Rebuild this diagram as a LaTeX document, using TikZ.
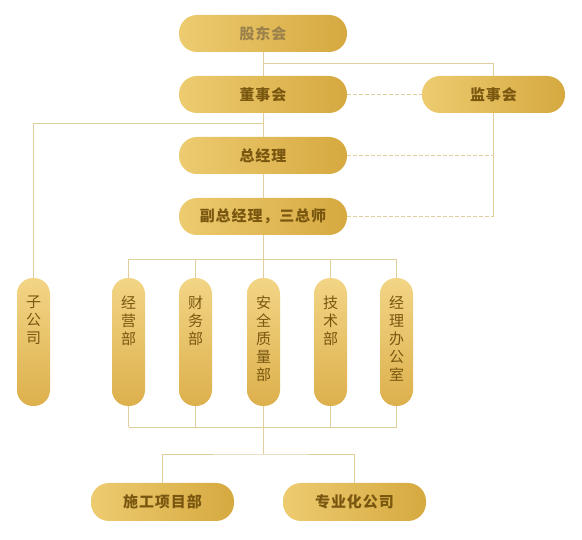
\documentclass[tikz,border=0pt]{standalone}
\usepackage{fontspec}
\newfontfamily\cjk{Noto Sans CJK SC}
\newfontfamily\cjkwide{Noto Sans CJK SC}[LetterSpace=6]
\definecolor{goldL}{HTML}{EDCB70}
\definecolor{goldR}{HTML}{D6A940}
\definecolor{goldT}{HTML}{F2D586}
\definecolor{goldB}{HTML}{DDB04C}
\definecolor{txt}{HTML}{7A5710}
\definecolor{wire}{HTML}{E0CF9C}
\tikzset{
  pill/.style={rectangle, rounded corners=18pt, minimum width=168pt, minimum height=37pt,
    left color=goldL, right color=goldR, text=txt, font=\cjkwide\fontsize{15}{17}\selectfont\bfseries},
  vpill/.style={rectangle, rounded corners=16pt, minimum width=33pt, minimum height=128pt,
    top color=goldT, bottom color=goldB, text=txt, font=\cjk\fontsize{15}{18}\selectfont, inner sep=0pt},
  wire/.style={draw=wire, line width=0.8pt},
  dashwire/.style={wire, dash pattern=on 4pt off 2pt}
}
\newcommand{\vtext}[1]{\parbox[c][112pt][t]{20pt}{\vspace*{10pt}\centering #1}}
\begin{document}
\begin{tikzpicture}[x=1pt,y=-1pt]
\useasboundingbox (0,0) rectangle (582,540);

\node[pill, text=txt!75] (gd) at (263,33.5) {股东会};
\node[pill] (dsh) at (263,94.5) {董事会};
\node[pill, minimum width=143pt] (jsh) at (493.5,94.5) {监事会};
\node[pill] (zjl) at (263,155.5) {总经理};
\node[pill] (fz) at (263,216.5) {副总经理，三总师};

\node[vpill] (zgs) at (33.5,342) {\vtext{子\\公\\司}};
\foreach \n/\x/\t in {d1/128.5/经\\营\\部, d2/195.5/财\\务\\部, d3/263.5/安\\全\\质\\量\\部, d4/330.5/技\\术\\部, d5/396.5/经\\理\\办\\公\\室}
  {\node[vpill] (\n) at (\x,342) {\vtext{\t}};}

\node[pill, minimum width=143pt, minimum height=38pt] (sg) at (162.5,502) {施工项目部};
\node[pill, minimum width=143pt, minimum height=38pt] (zy) at (354.5,502) {专业化公司};

% upper part
\coordinate (j1) at (263,63);
\coordinate (z1) at (263,123);
\draw[wire] (gd.south) -- (dsh.north);
\draw[wire] (j1) -| (jsh.north);
\draw[wire] (dsh.south) -- (zjl.north);
\draw[wire] (zjl.south) -- (fz.north);
\draw[wire] (z1) -| (zgs.north);
\draw[dashwire] (dsh.east) -- (jsh.west);
\draw[wire] (jsh.south) -- (jsh.south |- fz.east);
\draw[dashwire] (zjl.east) -- (jsh.south |- zjl.east);
\draw[dashwire] (fz.east) -- (jsh.south |- fz.east);

% departments
\coordinate (top) at (263,259);
\coordinate (bot) at (263,427);
\coordinate (low) at (263,454);
\draw[wire] (fz.south) -- (top);
\draw[wire] (d1.north |- top) -- (d5.north |- top);
\draw[wire] (d1.south |- bot) -- (d5.south |- bot);
\foreach \n in {d1,d2,d3,d4,d5}
  {\draw[wire] (\n.north |- top) -- (\n.north);
   \draw[wire] (\n.south) -- (\n.south |- bot);}
\draw[wire] (bot) -- (low);
\draw[wire] (sg.north) |- (low) -| (zy.north);
\end{tikzpicture}
\end{document}
